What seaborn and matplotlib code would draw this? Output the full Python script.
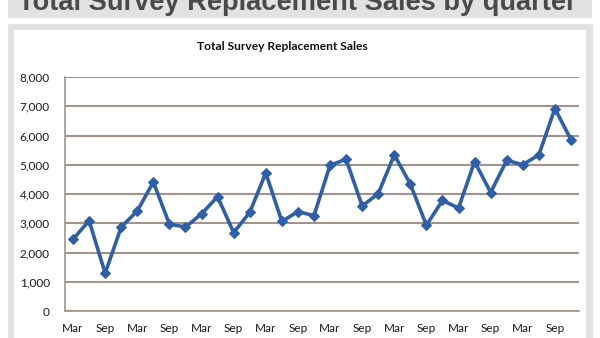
import matplotlib
matplotlib.use("Agg")
import matplotlib.pyplot as plt
from matplotlib.patches import Rectangle
from matplotlib.ticker import FixedLocator, FuncFormatter
import numpy as np
import pandas as pd
import seaborn as sns

# Quarterly replacement sales, Mar 2006 quarter onward
quarters = ["Mar", "Jun", "Sep", "Dec"] * 8
sales = [2450, 3090, 1290, 2870, 3420, 4410, 2970, 2870,
         3320, 3910, 2680, 3370, 4720, 3060, 3400, 3260,
         4980, 5190, 3590, 4010, 5340, 4340, 2930, 3780,
         3520, 5110, 4050, 5150, 5000, 5340, 6920, 5860]
y_ticks = [0, 1000, 2000, 3000, 4000, 5000, 6000, 7000, 8000]

header_text = "Total Survey Replacement Sales by quarter"
chart_title = "Total Survey Replacement Sales"

df = pd.DataFrame({"idx": np.arange(len(sales)), "quarter": quarters, "sales": sales})

sns.set_theme(style="white")
plt.rcParams["font.family"] = ["Lato", "DejaVu Sans"]

W, H = 600, 338
fig = plt.figure(figsize=(W / 100, H / 100), dpi=100)
fig.patch.set_facecolor("white")


def px_rect(x0, y0, x1, y1, color):
    fig.add_artist(Rectangle((x0 / W, 1 - y1 / H), (x1 - x0) / W, (y1 - y0) / H,
                             transform=fig.transFigure, facecolor=color,
                             edgecolor="none", zorder=-10))


# header band and framed panel
px_rect(8, 0, 592, 18, "#e2e2e2")
px_rect(8, 24, 593, 338, "#e2e2e2")
px_rect(14, 30, 586, 338, "white")

ax_left, ax_right, ax_top, ax_bottom = 65, 579, 77, 311
ax = fig.add_axes([ax_left / W, 1 - ax_bottom / H,
                   (ax_right - ax_left) / W, (ax_bottom - ax_top) / H])
ax.set_facecolor("none")

sns.lineplot(data=df, x="idx", y="sales", ax=ax, color="#2f5fa9", linewidth=2.6,
             marker="D", markersize=5.5, markeredgecolor="#2f5fa9", zorder=3)

grid_c = "#a3948c"
ax.set_ylim(0, 8000)
ax.set_xlim(-0.5, len(sales) - 0.5)
ax.yaxis.set_major_locator(FixedLocator(y_ticks))
ax.yaxis.set_major_formatter(FuncFormatter(lambda v, p: f"{int(v):,}"))
ax.grid(axis="y", color=grid_c, linewidth=1.5)
ax.grid(axis="x", visible=False)

label_pos = list(range(0, len(sales), 2))
ax.xaxis.set_major_locator(FixedLocator(label_pos))
ax.set_xticklabels([quarters[i] for i in label_pos])
ax.xaxis.set_minor_locator(FixedLocator(np.arange(-0.5, len(sales), 1.0)))
ax.tick_params(axis="x", which="major", length=0, pad=9, labelsize=8.5, labelcolor="#1a1a1a")
ax.tick_params(axis="x", which="minor", length=4, width=1, color=grid_c, direction="out")
ax.tick_params(axis="y", which="major", length=4, width=1.5, color=grid_c, direction="out",
               pad=7, labelsize=8.5, labelcolor="#1a1a1a")
ax.set_xlabel("")
ax.set_ylabel("")

for s in ["top", "right"]:
    ax.spines[s].set_visible(False)
for s in ["left", "bottom"]:
    ax.spines[s].set_color(grid_c)
    ax.spines[s].set_linewidth(1.2)

renderer = fig.canvas.get_renderer()


def fit_text(x, y, text, width_px, **kw):
    t = fig.text(x / W, 1 - y / H, text, **kw)
    bb = t.get_window_extent(renderer)
    t.set_fontsize(t.get_fontsize() * width_px / bb.width)
    return t


fit_text(18, 10, header_text, 559, fontsize=16, fontweight="bold", color="#4a4a4a",
         family=["Liberation Sans", "DejaVu Sans"], ha="left", va="baseline")
fit_text(282, 47, chart_title, 172, fontsize=8, fontweight="bold", color="#111111",
         ha="center", va="center")

fig.savefig("out.png", dpi=100)
